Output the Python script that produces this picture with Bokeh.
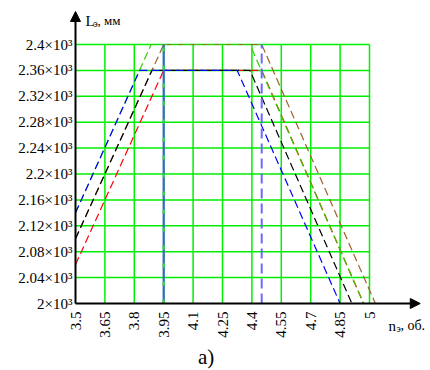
import math
from bokeh.plotting import figure
from bokeh.models import Range1d, FixedTicker, Arrow, NormalHead, Label
from bokeh.embed import file_html
from bokeh.resources import INLINE

# ---- data ----
x_ticks = [3.5, 3.65, 3.8, 3.95, 4.1, 4.25, 4.4, 4.55, 4.7, 4.85, 5.0]
x_tick_labels = ["3.5", "3.65", "3.8", "3.95", "4.1", "4.25", "4.4", "4.55", "4.7", "4.85", "5"]
y_ticks = [2000, 2040, 2080, 2120, 2160, 2200, 2240, 2280, 2320, 2360, 2400]
y_tick_labels = ["2×10³", "2.04×10³", "2.08×10³", "2.12×10³", "2.16×10³", "2.2×10³",
                 "2.24×10³", "2.28×10³", "2.32×10³", "2.36×10³", "2.4×10³"]

blue_x = [3.5, 3.827, 4.325, 4.85]
blue_y = [2140, 2360, 2360, 2000]
black_x = [3.5, 3.89, 4.39, 4.91]
black_y = [2100, 2360, 2360, 2000]
red_x = [3.5, 3.95, 4.45, 4.97]
red_y = [2060, 2360, 2360, 2000]
green_x = [3.5, 3.886, 4.39, 4.97]
green_y = [2140, 2400, 2400, 2000]
brown_x = [3.5, 3.95, 4.45, 5.03]
brown_y = [2100, 2400, 2400, 2000]

vline_left_x = [3.95, 3.95]
vline_right_x = [4.45, 4.45]
vline_y = [2000, 2400]

SERIF = "Liberation Serif"

W, H = 430, 370
SX, SY = 196.0, 0.6475          # px per x unit, px per y unit
x0 = 3.5 - 75 / SX
y0 = 2000 - 67 / SY

p = figure(width=W, height=H,
           x_range=Range1d(x0, x0 + W / SX), y_range=Range1d(y0, y0 + H / SY),
           output_backend="svg", toolbar_location=None,
           min_border=0, min_border_left=0, min_border_right=0,
           min_border_top=0, min_border_bottom=0)
p.outline_line_color = None
p.grid.visible = False
p.background_fill_color = "white"
p.border_fill_color = "white"

# axes (tick labels only; axis lines drawn as arrows)
p.xaxis.fixed_location = 2000
p.yaxis.fixed_location = 3.5
p.xaxis.ticker = FixedTicker(ticks=x_ticks)
p.xaxis.major_label_overrides = dict(zip(x_ticks, x_tick_labels))
p.xaxis.major_label_orientation = math.pi / 2
p.yaxis.ticker = FixedTicker(ticks=y_ticks)
p.yaxis.major_label_overrides = dict(zip(y_ticks, y_tick_labels))
for ax in (p.xaxis, p.yaxis):
    ax.axis_line_color = None
    ax.major_tick_line_color = None
    ax.minor_tick_line_color = None
    ax.major_tick_out = 0
    ax.major_tick_in = 0
    ax.minor_tick_out = 0
    ax.minor_tick_in = 0
    ax.major_label_text_font = SERIF
    ax.major_label_text_font_size = "15px"
    ax.major_label_text_color = "black"
p.xaxis.major_label_standoff = 8
p.yaxis.major_label_standoff = 3

# green grid inside the data box
grid_c = "#00ee00"
p.segment(x0=x_ticks[1:], y0=[y_ticks[0]] * (len(x_ticks) - 1),
          x1=x_ticks[1:], y1=[y_ticks[-1]] * (len(x_ticks) - 1),
          line_color=grid_c, line_width=1.5)
p.segment(x0=[x_ticks[0]] * (len(y_ticks) - 1), y0=y_ticks[1:],
          x1=[x_ticks[-1]] * (len(y_ticks) - 1), y1=y_ticks[1:],
          line_color=grid_c, line_width=1.5)

dash = "8 4"
p.line(red_x, red_y, line_color="#ff0000", line_width=1.2, line_dash=dash)
p.line(brown_x, brown_y, line_color="#a0602a", line_width=1.2, line_dash=dash)
p.line(green_x, green_y, line_color="#33cc00", line_width=1.2, line_dash=dash)
p.line(black_x, black_y, line_color="#000000", line_width=1.2, line_dash=dash)
p.line(blue_x, blue_y, line_color="#0000ff", line_width=1.2, line_dash=dash)

# vertical boundary lines
p.line(vline_left_x, vline_y, line_color="#3a66cc", line_width=2.2)
p.line(vline_left_x, vline_y, line_color="#33dd33", line_width=2.2, line_dash="4 14")
p.line(vline_right_x, vline_y, line_color="#6a6aff", line_width=2, line_dash="10 5")

# axis arrows
p.add_layout(Arrow(end=NormalHead(size=10, fill_color="black", line_color="black"),
                   x_start=3.5, y_start=2000, x_end=3.5, y_end=2451,
                   line_color="black", line_width=2))
p.add_layout(Arrow(end=NormalHead(size=10, fill_color="black", line_color="black"),
                   x_start=3.5, y_start=2000, x_end=5.259, y_end=2000,
                   line_color="black", line_width=2))

# axis titles
def lab(x, y, t, size):
    p.add_layout(Label(x=x, y=y, text=t, text_font=SERIF, text_font_size=size,
                       text_color="black", text_baseline="alphabetic", text_align="left"))

lab(3.551, 2437, "L", "15px")
lab(3.592, 2432.5, "э", "10px")
lab(3.612, 2437, ", мм", "13px")

lab(5.097, 1966, "n", "15px")
lab(5.138, 1962, "э", "10px")
lab(5.158, 1966, ", об.", "14px")

lab(4.125, 1918, "a)", "21px")

open("out.html", "w").write(file_html(p, INLINE))
